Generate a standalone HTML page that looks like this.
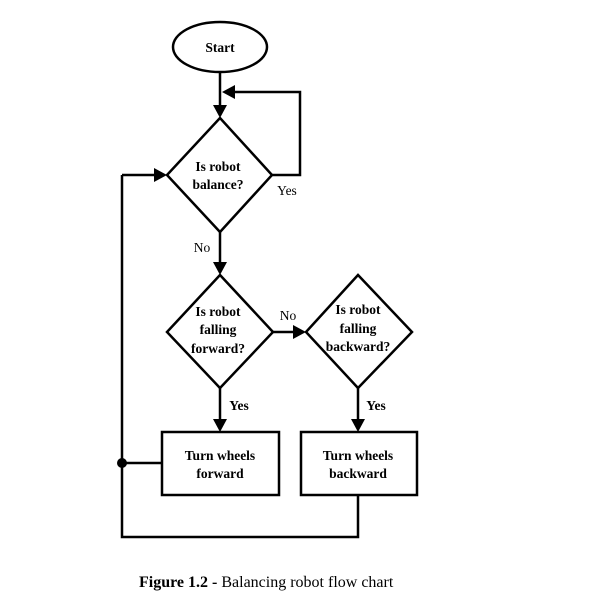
<!DOCTYPE html>
<html><head><style>body{margin:0;background:#fff}svg{display:block}</style></head><body>
<svg width="591" height="615" viewBox="0 0 591 615" xmlns="http://www.w3.org/2000/svg" font-family="Liberation Serif, serif">
<g fill="none" stroke="#000" stroke-width="2.5">
<ellipse cx="220" cy="47" rx="47" ry="25" fill="#fff"/>
<line x1="220" y1="72" x2="220" y2="106"/>
<polygon points="220,118 167,175 220,232 272,175" fill="#fff"/>
<polyline points="272,175 300,175 300,92 232,92"/>
<polyline points="122,175 122,537 358,537 358,495"/>
<line x1="122" y1="175" x2="155" y2="175"/>
<line x1="220" y1="232" x2="220" y2="263"/>
<polygon points="220,275 167,332 220,388 273,332" fill="#fff"/>
<polygon points="358,275 306,332 358,388 412,332" fill="#fff"/>
<line x1="273" y1="332" x2="294" y2="332"/>
<line x1="220" y1="388" x2="220" y2="420"/>
<line x1="358" y1="388" x2="358" y2="420"/>
<rect x="162" y="432" width="117" height="63" fill="#fff"/>
<rect x="301" y="432" width="116" height="63" fill="#fff"/>
<line x1="122" y1="463" x2="162" y2="463"/>
</g>
<g fill="#000">
<polygon points="220,118 213,105 227,105"/>
<polygon points="222,92 235,85 235,99"/>
<polygon points="167,175 154,168 154,182"/>
<polygon points="220,275 213,262 227,262"/>
<polygon points="306,332 293,325 293,339"/>
<polygon points="220,432 213,419 227,419"/>
<polygon points="358,432 351,419 365,419"/>
<circle cx="122" cy="463" r="5"/>
</g>
<g font-size="13.5" font-weight="bold" text-anchor="middle">
<text x="220" y="52">Start</text>
<text x="218" y="171">Is robot</text>
<text x="218" y="189">balance?</text>
<text x="218" y="316">Is robot</text>
<text x="218" y="334">falling</text>
<text x="218" y="353">forward?</text>
<text x="358" y="314">Is robot</text>
<text x="358" y="333">falling</text>
<text x="358" y="351">backward?</text>
<text x="220" y="460">Turn wheels</text>
<text x="220" y="478">forward</text>
<text x="358" y="460">Turn wheels</text>
<text x="358" y="478">backward</text>
<text x="239" y="410">Yes</text>
<text x="376" y="410">Yes</text>
</g>
<g font-size="13.5" text-anchor="middle">
<text x="287" y="195">Yes</text>
<text x="202" y="252">No</text>
<text x="288" y="320">No</text>
</g>
<text x="139" y="587" font-size="16"><tspan font-weight="bold">Figure 1.2 -</tspan> Balancing robot flow chart</text>
</svg>
</body></html>
